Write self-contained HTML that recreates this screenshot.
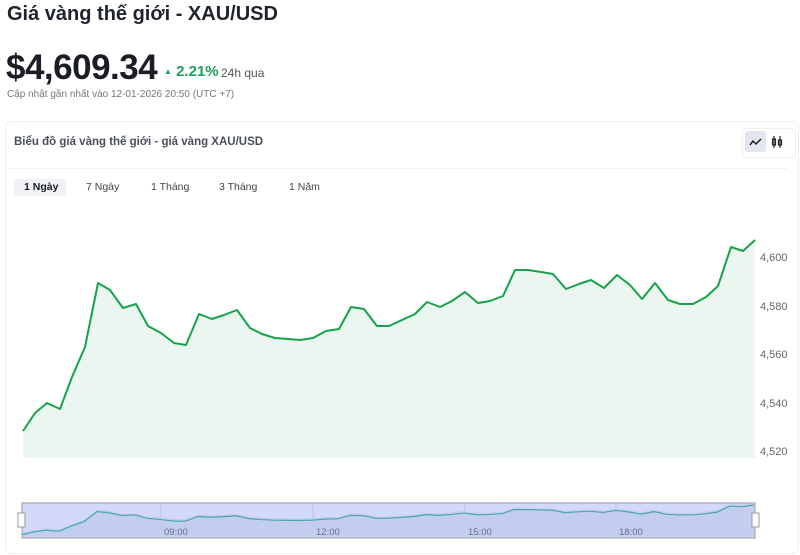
<!DOCTYPE html>
<html><head><meta charset="utf-8"><style>
body{margin:0;width:800px;height:555px;background:#fff;font-family:"Liberation Sans",sans-serif;position:relative;overflow:hidden;color:#1a1d24}
.abs{position:absolute;white-space:nowrap}
</style></head><body>
<div class="abs" style="left:7px;top:3px;font-size:20px;font-weight:bold;color:#1f232b">Giá vàng thế giới - XAU/USD</div>
<div class="abs" style="left:6px;top:48px;font-size:35px;font-weight:bold;letter-spacing:-0.5px">$4,609.34</div>
<div class="abs" style="left:164px;top:63px;font-size:15px;color:#16a35a;font-weight:bold"><span style="font-size:8px;vertical-align:2px">▲</span> 2.21%</div>
<div class="abs" style="left:221px;top:66px;font-size:12px;color:#555">24h qua</div>
<div class="abs" style="left:7px;top:89px;font-size:10px;color:#777">Cập nhật gần nhất vào 12-01-2026 20:50 (UTC +7)</div>
<div class="abs" style="left:5px;top:121px;width:792px;height:431px;border:1px solid #eceef2;border-radius:6px"></div>
<div class="abs" style="left:14px;top:136px;font-size:11.5px;color:#4a4f5a;font-weight:bold">Biểu đồ giá vàng thế giới - giá vàng XAU/USD</div>
<div class="abs" style="left:742px;top:128px;width:52px;height:28px;border:1px solid #eceef2;border-radius:4px"></div>
<div class="abs" style="left:745px;top:131px;width:21px;height:21px;background:#e3e6ee;border-radius:3px"></div>
<svg class="abs" style="left:745px;top:131px" width="50" height="22"><polyline points="5,14 8,10 11,13 16,8" fill="none" stroke="#222" stroke-width="1.5"/><g stroke="#222" stroke-width="1.2" fill="none"><line x1="29" y1="5" x2="29" y2="17"/><rect x="27.5" y="8" width="3" height="6"/><line x1="35" y1="5" x2="35" y2="17"/><rect x="33.5" y="9" width="3" height="5"/></g></svg>
<div class="abs" style="left:7px;top:168px;width:780px;height:1px;background:#eef0f3"></div>
<div class="abs" style="left:14px;top:179px;width:52px;height:17px;background:#f1f2f5;border-radius:3px"></div>
<div class="abs" style="left:24px;top:181px;font-size:10.5px;font-weight:bold">1 Ngày</div>
<div class="abs" style="left:86px;top:181px;font-size:10.5px;color:#444">7 Ngày</div>
<div class="abs" style="left:151px;top:181px;font-size:10.5px;color:#444">1 Tháng</div>
<div class="abs" style="left:219px;top:181px;font-size:10.5px;color:#444">3 Tháng</div>
<div class="abs" style="left:289px;top:181px;font-size:10.5px;color:#444">1 Năm</div>
<svg class="abs" style="left:0;top:0" width="800" height="555">
<g font-size="11" fill="#666" font-family="Liberation Sans,sans-serif">
<text x="760" y="261">4,600</text><text x="760" y="310">4,580</text><text x="760" y="358">4,560</text><text x="760" y="407">4,540</text><text x="760" y="455">4,520</text></g>
<polygon fill="#eaf6ef" points="23,458 23,431 35,413 47,403 60,409 72,377 85,347 98,283 110,290 123,308 136,304 148,326 161,333 174,343 186,345 199,314 212,319 224,315 237,310 250,328 262,334 275,338 288,339 300,340 313,338 326,331 339,329 351,307 364,309 377,326 389,326 402,320 415,314 427,302 440,307 452,301 465,292 478,303 490,301 503,296 515,270 528,270 541,272 553,274 566,289 579,284 591,280 604,288 617,275 630,285 642,299 655,283 668,300 680,304 693,304 706,297 718,286 731,247 743,251 755,240 755,458"/>
<polyline fill="none" stroke="#16a34a" stroke-width="2" stroke-linejoin="round" points="23,431 35,413 47,403 60,409 72,377 85,347 98,283 110,290 123,308 136,304 148,326 161,333 174,343 186,345 199,314 212,319 224,315 237,310 250,328 262,334 275,338 288,339 300,340 313,338 326,331 339,329 351,307 364,309 377,326 389,326 402,320 415,314 427,302 440,307 452,301 465,292 478,303 490,301 503,296 515,270 528,270 541,272 553,274 566,289 579,284 591,280 604,288 617,275 630,285 642,299 655,283 668,300 680,304 693,304 706,297 718,286 731,247 743,251 755,240"/>
<rect x="22" y="503" width="733" height="35" fill="#d3d9fb" stroke="#999" stroke-width="1"/>
<g stroke="#b8c0ea"><line x1="161" y1="503" x2="161" y2="538"/><line x1="313" y1="503" x2="313" y2="538"/><line x1="465" y1="503" x2="465" y2="538"/><line x1="616" y1="503" x2="616" y2="538"/></g>
<polygon fill="#c2cdf0" transform="translate(22,503) scale(1,0.155) translate(-23,-240)" points="23,458 23,431 35,413 47,403 60,409 72,377 85,347 98,283 110,290 123,308 136,304 148,326 161,333 174,343 186,345 199,314 212,319 224,315 237,310 250,328 262,334 275,338 288,339 300,340 313,338 326,331 339,329 351,307 364,309 377,326 389,326 402,320 415,314 427,302 440,307 452,301 465,292 478,303 490,301 503,296 515,270 528,270 541,272 553,274 566,289 579,284 591,280 604,288 617,275 630,285 642,299 655,283 668,300 680,304 693,304 706,297 718,286 731,247 743,251 755,240 755,458"/>
<polyline fill="none" stroke="#4aa8a8" stroke-width="1.2" transform="translate(22,505) scale(1,0.155) translate(-23,-240)" vector-effect="non-scaling-stroke" points="23,431 35,413 47,403 60,409 72,377 85,347 98,283 110,290 123,308 136,304 148,326 161,333 174,343 186,345 199,314 212,319 224,315 237,310 250,328 262,334 275,338 288,339 300,340 313,338 326,331 339,329 351,307 364,309 377,326 389,326 402,320 415,314 427,302 440,307 452,301 465,292 478,303 490,301 503,296 515,270 528,270 541,272 553,274 566,289 579,284 591,280 604,288 617,275 630,285 642,299 655,283 668,300 680,304 693,304 706,297 718,286 731,247 743,251 755,240"/>
<g font-size="9.5" fill="#6a6f85" font-family="Liberation Sans,sans-serif"><text x="164" y="535">09:00</text><text x="316" y="535">12:00</text><text x="468" y="535">15:00</text><text x="619" y="535">18:00</text></g>
<rect x="18" y="513" width="7" height="14" fill="#fff" stroke="#999"/><rect x="752" y="513" width="7" height="14" fill="#fff" stroke="#999"/>
</svg>
</body></html>
